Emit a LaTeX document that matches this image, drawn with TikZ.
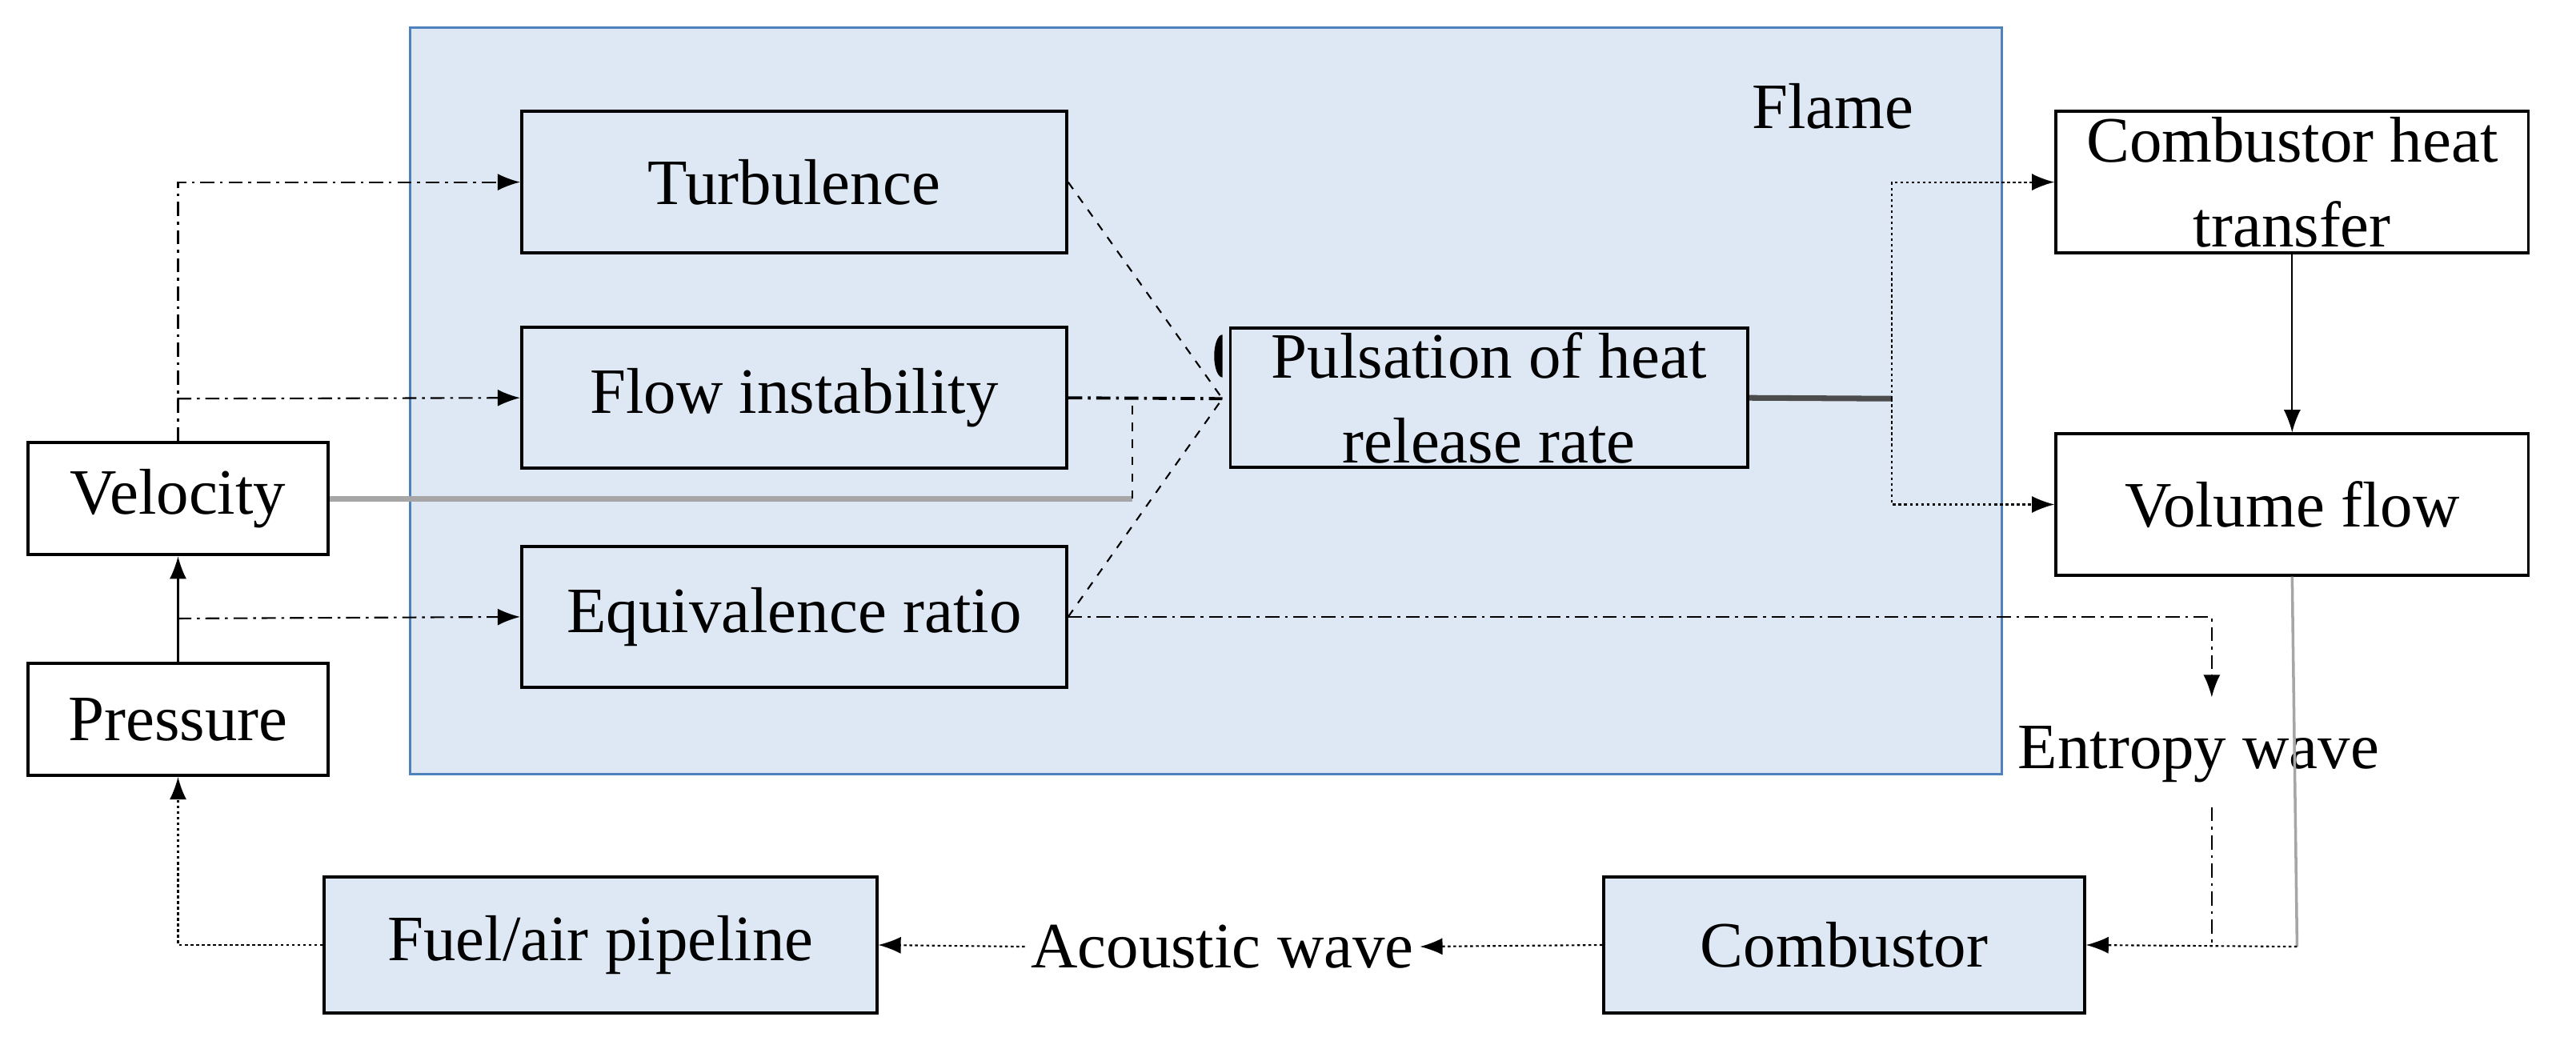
\documentclass[tikz,border=0pt]{standalone}
\usepackage{fontspec}
\setmainfont{Liberation Serif}
\usetikzlibrary{arrows.meta}
\definecolor{fl}{HTML}{DEE8F5}
\definecolor{fb}{HTML}{4F81BD}
\begin{document}
\begin{tikzpicture}[x=0.0205cm,y=-0.0205cm,
  box/.style={draw,line width=1.1pt,minimum width=332\pgflinewidth,font=\fontsize{23}{30}\selectfont,align=center,inner sep=0pt},
  txt/.style={font=\fontsize{23}{30}\selectfont,inner sep=2pt},
  arr/.style={-{Latex[length=8pt,width=6pt]},line width=0.6pt},
  dd/.style={dash pattern=on 5pt off 2pt on 1pt off 2pt},
  dot/.style={dash pattern=on 1pt off 1pt}]
\useasboundingbox (0,0) rectangle (1570,639);
\draw[fill=fl,draw=fb,line width=0.9pt] (250,17) rectangle (1220,472);
\node[txt] (flame) at (1117,65) {Flame};
\tikzset{bx/.style={box,minimum width=6.806cm,minimum height=1.763cm}}
\node[bx,fill=fl] (turb) at (484,111) {Turbulence};
\node[bx,fill=fl] (flow) at (484,242.5) {Flow instability};
\node[bx,fill=fl] (equ) at (484,376) {Equivalence ratio};
\node[box,fill=fl,minimum width=6.46cm,minimum height=1.743cm] (puls) at (907.5,242.5) {Pulsation of heat\\release rate};
\node[box,fill=white,minimum width=5.9cm,minimum height=1.763cm] (cht) at (1397,111) {Combustor heat\\transfer};
\node[box,fill=white,minimum width=5.9cm,minimum height=1.763cm] (vol) at (1397,307.5) {Volume flow};
\node[box,fill=white,minimum width=3.75cm,minimum height=1.4cm] (vel) at (108.5,304) {Velocity};
\node[box,fill=white,minimum width=3.75cm,minimum height=1.4cm] (pre) at (108.5,438.5) {Pressure};
\node[box,fill=fl,minimum width=6.9cm,minimum height=1.7cm] (fuel) at (366,576) {Fuel/air pipeline};
\node[box,fill=fl,minimum width=6.0cm,minimum height=1.7cm] (comb) at (1124,576) {Combustor};
\node[txt] (ac) at (745,577) {Acoustic wave};
\node[txt] (ent) at (1340,460) {Entropy wave};
\coordinate (tip) at (745,243);
% velocity branches
\draw[arr,dd] (vel.north) |- (turb.west);
\draw[arr,dd] (108,243) -- (flow.west);
\draw[arr] (pre.north) -- (vel.south);
\draw[arr,dd] (108,377) -- (equ.west);
\draw[gray!70,line width=2pt] (vel.east) -- (690,304);
\draw[dashed,line width=0.5pt] (690,304) -- (690,243);
% into pulsation
\draw[dashed,line width=0.6pt] (turb.east) -- (tip);
\draw[dashed,line width=0.6pt] (equ.east) -- (tip);
\draw[dd,line width=1.1pt] (flow.east) -- (tip);
\fill (tip) ++(0,-13) arc[start angle=90,end angle=270,x radius=5,y radius=13] -- cycle;
% out of pulsation
\draw[gray!60!black,line width=2pt] (puls.east) -- (1153,243);
\draw[arr,dot] (1153,243) |- (cht.west);
\draw[arr,dot] (1153,243) |- (vol.west);
\draw[arr,line width=0.5pt] (cht.south) -- (vol.north);
% entropy
\draw[arr,dd] (equ.east) -| (1348,425);
\draw[dd,line width=0.6pt] (1348,492) -- (1348,577);
\draw[gray!70,line width=1pt] (vol.south) -- (1400,577);
\draw[arr,dot] (1400,577) -- (comb.east);
% acoustic loop
\draw[arr,dot] (comb.west) -- (ac.east);
\draw[arr,dot] (ac.west) -- (fuel.east);
\draw[arr,dot] (fuel.west) -| (pre.south);
\end{tikzpicture}
\end{document}
